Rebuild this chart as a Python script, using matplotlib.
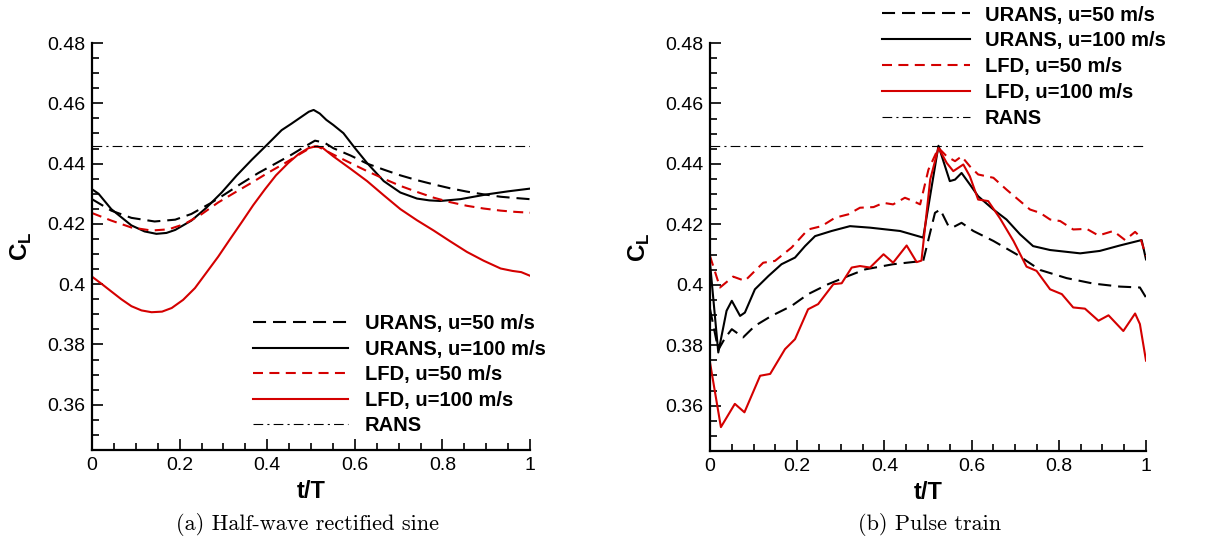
import matplotlib
matplotlib.use("Agg")
import matplotlib.pyplot as plt
from matplotlib.ticker import MultipleLocator, FuncFormatter

plt.rcParams['font.family'] = ['Liberation Sans', 'DejaVu Sans']
plt.rcParams['mathtext.fontset'] = 'custom'
plt.rcParams['mathtext.bf'] = 'Liberation Sans:bold'
plt.rcParams['mathtext.rm'] = 'Liberation Sans'
plt.rcParams['lines.scale_dashes'] = False

# ---------------- (a) Half-wave rectified sine ----------------
a_urans50_t = [0, 0.044, 0.09, 0.143, 0.19, 0.227, 0.27, 0.303, 0.34, 0.380, 0.42, 0.456,
               0.49, 0.509, 0.53, 0.551, 0.59, 0.628, 0.666, 0.704, 0.742, 0.780, 0.818,
               0.856, 0.894, 0.933, 0.965, 1.0]
a_urans50_cl = [0.4282, 0.4244, 0.4220, 0.4208, 0.4214, 0.4233, 0.4268, 0.4298, 0.4333,
                0.4369, 0.4401, 0.4430, 0.4460, 0.4476, 0.4470, 0.4451, 0.4427, 0.4400,
                0.4380, 0.4361, 0.4345, 0.4331, 0.4318, 0.4307, 0.4298, 0.4290, 0.4286, 0.4282]

a_urans100_t = [0, 0.015, 0.044, 0.09, 0.12, 0.147, 0.17, 0.19, 0.227, 0.26, 0.296, 0.33,
                0.365, 0.40, 0.433, 0.455, 0.475, 0.495, 0.506, 0.52, 0.535, 0.551, 0.574,
                0.60, 0.628, 0.666, 0.704, 0.742, 0.77, 0.795, 0.841, 0.902, 0.95, 1.0]
a_urans100_cl = [0.4315, 0.4300, 0.4249, 0.4195, 0.4175, 0.4167, 0.4170, 0.4180, 0.4211,
                 0.4252, 0.4304, 0.4360, 0.4413, 0.4463, 0.4511, 0.4532, 0.4552, 0.4572,
                 0.4578, 0.4566, 0.4545, 0.4528, 0.4501, 0.4452, 0.4402, 0.4342, 0.4304,
                 0.4284, 0.4278, 0.4276, 0.4282, 0.4298, 0.4308, 0.4317]

a_lfd50_t = [0, 0.044, 0.09, 0.136, 0.175, 0.212, 0.25, 0.288, 0.325, 0.365, 0.40, 0.441,
             0.475, 0.502, 0.515, 0.551, 0.59, 0.628, 0.666, 0.704, 0.742, 0.780, 0.818,
             0.856, 0.894, 0.933, 0.965, 1.0]
a_lfd50_cl = [0.4236, 0.4211, 0.4188, 0.4178, 0.4182, 0.4200, 0.4232, 0.4271, 0.4303,
              0.4337, 0.4368, 0.4402, 0.4432, 0.4455, 0.4457, 0.4430, 0.4402, 0.4375,
              0.4350, 0.4326, 0.4306, 0.4287, 0.4272, 0.4260, 0.4251, 0.4244, 0.4240, 0.4237]

a_lfd100_t = [0, 0.022, 0.044, 0.067, 0.09, 0.113, 0.136, 0.16, 0.182, 0.208, 0.235, 0.26,
              0.288, 0.315, 0.342, 0.368, 0.395, 0.42, 0.448, 0.472, 0.494, 0.51, 0.525,
              0.551, 0.59, 0.628, 0.666, 0.704, 0.742, 0.780, 0.818, 0.856, 0.894, 0.933,
              0.96, 0.98, 1.0]
a_lfd100_cl = [0.4025, 0.4001, 0.3976, 0.3950, 0.3927, 0.3913, 0.3907, 0.3909, 0.3921,
               0.3948, 0.3987, 0.4036, 0.4091, 0.4149, 0.4206, 0.4262, 0.4315, 0.4361,
               0.4402, 0.4432, 0.4451, 0.4457, 0.4454, 0.4424, 0.4383, 0.4342, 0.4295,
               0.4249, 0.4212, 0.4178, 0.4142, 0.4107, 0.4078, 0.4052, 0.4044, 0.4040, 0.4028]

# ---------------- (b) Pulse train ----------------
b_urans50_t = [0, 0.019, 0.035, 0.050, 0.076, 0.103, 0.141, 0.187, 0.225, 0.271, 0.317,
               0.356, 0.420, 0.489, 0.516, 0.528, 0.547, 0.557, 0.577, 0.604, 0.650, 0.703,
               0.757, 0.818, 0.879, 0.940, 0.986, 1.0]
b_urans50_cl = [0.3920, 0.3785, 0.3825, 0.3853, 0.3826, 0.3864, 0.3897, 0.3930, 0.3969,
                0.4002, 0.4029, 0.4051, 0.4068, 0.4079, 0.4238, 0.4249, 0.4194, 0.4190,
                0.4205, 0.4178, 0.4145, 0.4101, 0.4049, 0.4022, 0.4004, 0.3994, 0.3991, 0.3958]

b_urans100_t = [0, 0.019, 0.038, 0.050, 0.069, 0.080, 0.103, 0.134, 0.164, 0.195, 0.218,
                0.241, 0.279, 0.321, 0.367, 0.436, 0.489, 0.524, 0.550, 0.562, 0.577, 0.596,
                0.615, 0.650, 0.680, 0.711, 0.741, 0.780, 0.849, 0.894, 0.940, 0.990, 1.0]
b_urans100_cl = [0.4072, 0.3776, 0.3914, 0.3947, 0.3897, 0.3908, 0.3985, 0.4029, 0.4068,
                 0.4090, 0.4128, 0.4161, 0.4178, 0.4194, 0.4189, 0.4178, 0.4156, 0.4460,
                 0.4343, 0.4348, 0.4370, 0.4332, 0.4293, 0.4249, 0.4216, 0.4167, 0.4128,
                 0.4115, 0.4104, 0.4112, 0.4130, 0.4148, 0.4084]

b_lfd50_t = [0, 0.023, 0.053, 0.080, 0.122, 0.149, 0.187, 0.225, 0.256, 0.287, 0.317, 0.344,
             0.375, 0.398, 0.420, 0.447, 0.466, 0.482, 0.501, 0.524, 0.543, 0.562, 0.577,
             0.596, 0.615, 0.650, 0.680, 0.711, 0.734, 0.757, 0.780, 0.803, 0.833, 0.864,
             0.891, 0.925, 0.952, 0.975, 0.986, 1.0]
b_lfd50_cl = [0.4095, 0.3991, 0.4027, 0.4013, 0.4073, 0.4079, 0.4123, 0.4183, 0.4194,
              0.4222, 0.4233, 0.4255, 0.4257, 0.4271, 0.4266, 0.4288, 0.4277, 0.4266,
              0.4381, 0.4453, 0.4425, 0.4409, 0.4425, 0.4392, 0.4365, 0.4354, 0.4315,
              0.4277, 0.4249, 0.4238, 0.4216, 0.4211, 0.4183, 0.4185, 0.4163, 0.4178,
              0.4148, 0.4175, 0.4160, 0.4095]

b_lfd100_t = [0, 0.025, 0.057, 0.079, 0.115, 0.138, 0.172, 0.195, 0.225, 0.248, 0.283,
              0.302, 0.325, 0.344, 0.367, 0.398, 0.420, 0.451, 0.474, 0.485, 0.505, 0.524,
              0.543, 0.558, 0.581, 0.596, 0.615, 0.638, 0.665, 0.696, 0.726, 0.749, 0.780,
              0.807, 0.833, 0.860, 0.891, 0.914, 0.948, 0.975, 0.986, 1.0]
b_lfd100_cl = [0.3743, 0.3529, 0.3606, 0.3578, 0.3699, 0.3705, 0.3787, 0.3820, 0.3919,
               0.3936, 0.4002, 0.4005, 0.4057, 0.4062, 0.4057, 0.4101, 0.4073, 0.4130,
               0.4075, 0.4080, 0.4348, 0.4453, 0.4403, 0.4376, 0.4398, 0.4359, 0.4282,
               0.4277, 0.4220, 0.4145, 0.4060, 0.4046, 0.3985, 0.3969, 0.3925, 0.3921,
               0.3881, 0.3899, 0.3847, 0.3905, 0.3870, 0.3749]

rans_cl = 0.4458
t_span = [0.0, 1.0]

labels = ['URANS, u=50 m/s', 'URANS, u=100 m/s', 'LFD, u=50 m/s', 'LFD, u=100 m/s', 'RANS']
captions = ['(a) Half-wave rectified sine', '(b) Pulse train']

RED = '#d40000'
BLACK_DASH = (0, (9.4, 5.0))
RED_DASH = (0, (7.2, 4.6))
DASH_DOT = (0, (7.0, 3.0, 1.5, 3.0))

fig = plt.figure(figsize=(12.12, 5.54), dpi=100)
W, H = 1212.0, 554.0


def px_axes(x0, y0, x1, y1):
    return fig.add_axes([x0 / W, 1 - y1 / H, (x1 - x0) / W, (y1 - y0) / H])


ax_a = px_axes(92, 43, 530, 450)
ax_b = px_axes(710, 43, 1146, 451)


def draw(ax, data):
    handles = []
    (u50t, u50c), (u100t, u100c), (l50t, l50c), (l100t, l100c) = data
    handles.append(ax.plot(u50t, u50c, color='black', lw=1.5, linestyle=BLACK_DASH)[0])
    handles.append(ax.plot(u100t, u100c, color='black', lw=1.5)[0])
    handles.append(ax.plot(l50t, l50c, color=RED, lw=1.5, linestyle=RED_DASH)[0])
    handles.append(ax.plot(l100t, l100c, color=RED, lw=1.5)[0])
    handles.append(ax.plot(t_span, [rans_cl, rans_cl], color='black', lw=0.8,
                           linestyle=DASH_DOT)[0])
    ax.set_xlim(0, 1)
    ax.set_ylim(0.345, 0.48)
    ax.xaxis.set_major_locator(MultipleLocator(0.2))
    ax.xaxis.set_minor_locator(MultipleLocator(0.05))
    ax.yaxis.set_major_locator(MultipleLocator(0.02))
    ax.yaxis.set_minor_locator(MultipleLocator(0.005))
    ax.xaxis.set_major_formatter(FuncFormatter(lambda v, p: '%g' % round(v, 3)))
    ax.yaxis.set_major_formatter(FuncFormatter(lambda v, p: '%g' % round(v, 3)))
    for s in ('top', 'right'):
        ax.spines[s].set_visible(False)
    for s in ('left', 'bottom'):
        ax.spines[s].set_linewidth(1.6)
    ax.tick_params(which='both', direction='in', top=False, right=False, width=1.2)
    ax.tick_params(which='major', length=8, labelsize=14, pad=5)
    ax.tick_params(which='minor', length=5)
    ax.set_xlabel('t/T', fontsize=17, fontweight='bold')
    ax.set_ylabel(r'$\mathbf{C}_{\mathbf{L}}$', fontsize=17.5)
    ax.xaxis.set_label_coords(0.5, -0.073)
    ax.yaxis.set_label_coords(-0.132, 0.5)
    return handles


h_a = draw(ax_a, [(a_urans50_t, a_urans50_cl), (a_urans100_t, a_urans100_cl),
                  (a_lfd50_t, a_lfd50_cl), (a_lfd100_t, a_lfd100_cl)])
h_b = draw(ax_b, [(b_urans50_t, b_urans50_cl), (b_urans100_t, b_urans100_cl),
                  (b_lfd50_t, b_lfd50_cl), (b_lfd100_t, b_lfd100_cl)])

legend_font = {'weight': 'bold', 'size': 14.5}
fig.legend(h_a, labels, loc='upper left', bbox_to_anchor=(253 / W, 1 - 314.5 / H),
           frameon=False, prop=legend_font, borderpad=0, borderaxespad=0,
           handlelength=4.72, handletextpad=0.84, labelspacing=0.32)
fig.legend(h_b, labels, loc='upper left', bbox_to_anchor=(882 / W, 1 - 5.5 / H),
           frameon=False, prop=legend_font, borderpad=0, borderaxespad=0,
           handlelength=4.37, handletextpad=0.74, labelspacing=0.34)

fig.text(308 / W, 1 - 525 / H, captions[0], family='cmr10', fontsize=16,
         ha='center', va='center')
fig.text(930 / W, 1 - 525 / H, captions[1], family='cmr10', fontsize=16,
         ha='center', va='center')

fig.savefig('out.png', dpi=100)
